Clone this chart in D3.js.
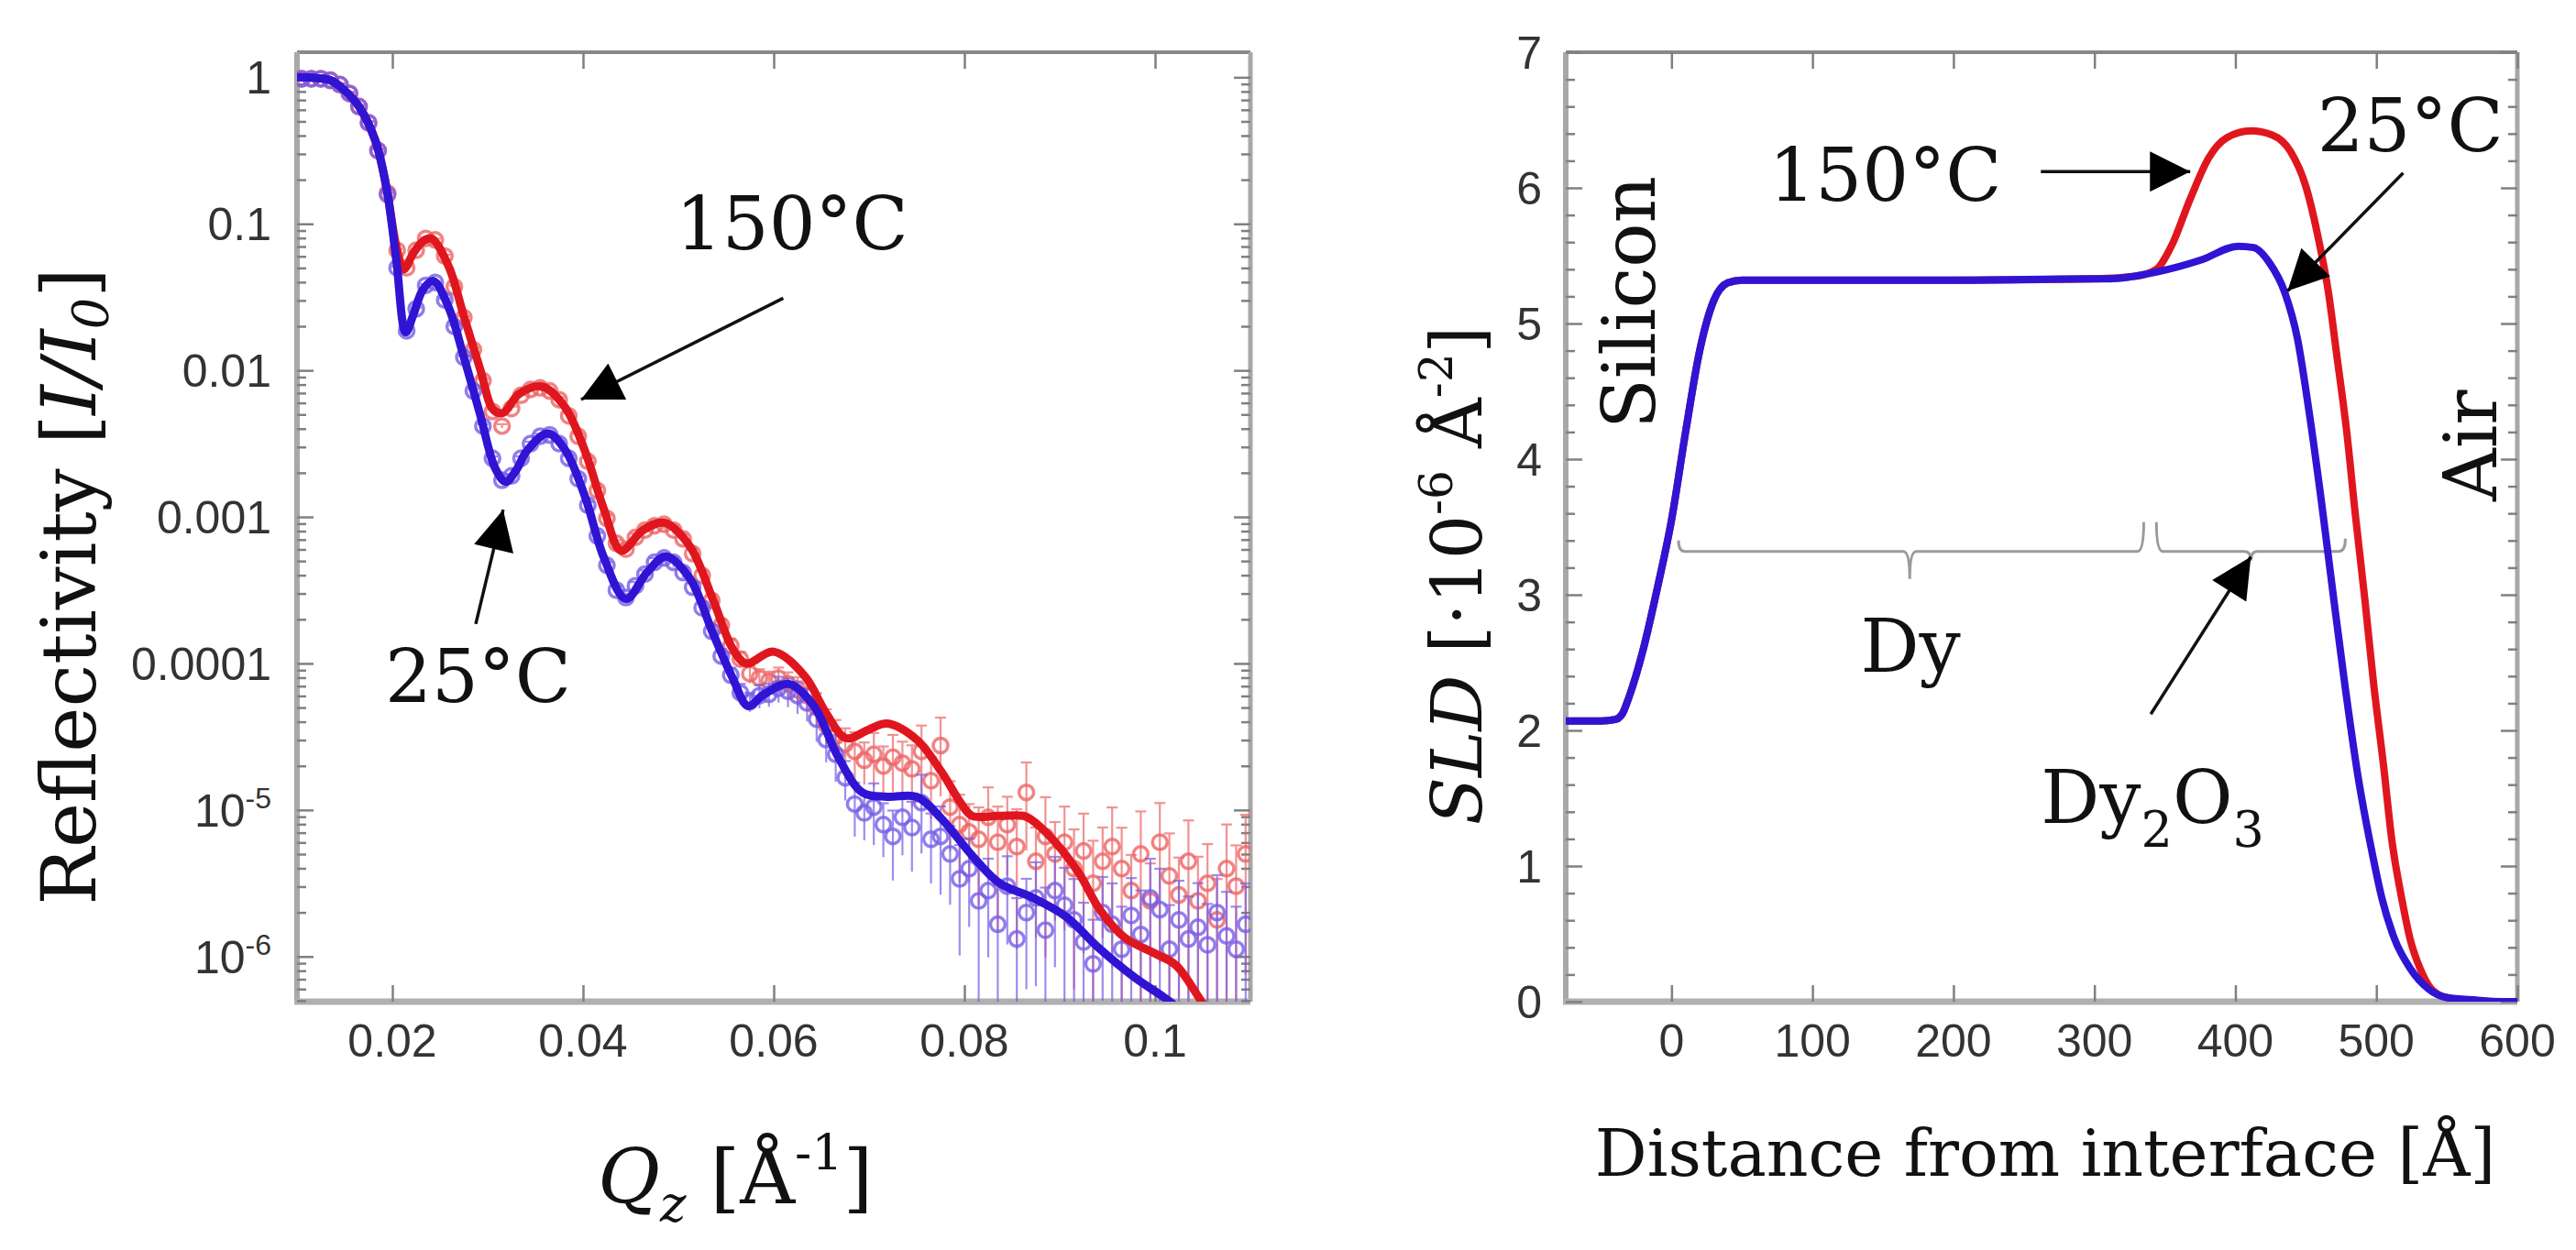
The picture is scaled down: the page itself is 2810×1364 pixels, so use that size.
<!DOCTYPE html>
<html>
<head>
<meta charset="utf-8">
<script src="https://cdn.jsdelivr.net/npm/d3@7"></script>
<style>
  body { margin: 0; background: #fff; }
  svg { display: block; }
</style>
</head>
<body>
<div id="chart"></div>
<script>
// ---------- reflectivity data (left panel) ----------
// measured points: Qz grid and log10(R) for each temperature, plus relative errors
const qData = [
  0.0105, 0.0115, 0.0125, 0.0135, 0.0145, 0.0155, 0.0165, 0.0175, 0.0185, 0.0195,
  0.0205, 0.0215, 0.0225, 0.0235, 0.0245, 0.0255, 0.0265, 0.0275, 0.0285, 0.0295,
  0.0305, 0.0315, 0.0325, 0.0335, 0.0345, 0.0355, 0.0365, 0.0375, 0.0385, 0.0395,
  0.0405, 0.0415, 0.0425, 0.0435, 0.0445, 0.0455, 0.0465, 0.0475, 0.0485, 0.0495,
  0.0505, 0.0515, 0.0525, 0.0535, 0.0545, 0.0555, 0.0565, 0.0575, 0.0585, 0.0595,
  0.0605, 0.0615, 0.0625, 0.0635, 0.0645, 0.0655, 0.0665, 0.0675, 0.0685, 0.0695,
  0.0705, 0.0715, 0.0725, 0.0735, 0.0745, 0.0755, 0.0765, 0.0775, 0.0785, 0.0795,
  0.0805, 0.0815, 0.0825, 0.0835, 0.0845, 0.0855, 0.0865, 0.0875, 0.0885, 0.0895,
  0.0905, 0.0915, 0.0925, 0.0935, 0.0945, 0.0955, 0.0965, 0.0975, 0.0985, 0.0995,
  0.1005, 0.1015, 0.1025, 0.1035, 0.1045, 0.1055, 0.1065, 0.1075, 0.1085, 0.1095
];
const logR25 = [
  -0.01, -0.01, -0.01, -0.02, -0.05, -0.11, -0.20, -0.31, -0.50, -0.80,
  -1.30, -1.73, -1.58, -1.42, -1.40, -1.52, -1.70, -1.91, -2.14, -2.38,
  -2.60, -2.75, -2.72, -2.60, -2.50, -2.45, -2.44, -2.50, -2.60, -2.74,
  -2.92, -3.13, -3.33, -3.50, -3.55, -3.47, -3.39, -3.31, -3.28, -3.31,
  -3.38, -3.48, -3.62, -3.78, -3.95, -4.08, -4.20, -4.26, -4.22, -4.21,
  -4.17, -4.19, -4.22, -4.27, -4.38, -4.52, -4.62, -4.78, -4.96, -5.02,
  -4.98, -5.10, -5.18, -5.05, -5.12, -4.95, -5.20, -5.18, -5.30, -5.47,
  -5.40, -5.62, -5.55, -5.78, -5.52, -5.88, -5.70, -5.60, -5.82, -5.55,
  -5.65, -5.75, -5.90, -6.05, -5.70, -5.78, -5.95, -5.72, -5.85, -5.60,
  -5.68, -5.95, -5.75, -5.88, -5.80, -5.92, -5.70, -5.86, -5.95, -5.78
];
const logR150 = [
  -0.01, -0.01, -0.01, -0.02, -0.05, -0.11, -0.20, -0.31, -0.50, -0.79,
  -1.18, -1.30, -1.18, -1.10, -1.11, -1.22, -1.43, -1.64, -1.86, -2.07,
  -2.28, -2.38, -2.26, -2.17, -2.13, -2.12, -2.14, -2.20, -2.31, -2.45,
  -2.62, -2.82, -3.01, -3.18, -3.22, -3.14, -3.09, -3.06, -3.05, -3.09,
  -3.15, -3.25, -3.40, -3.57, -3.74, -3.88, -3.97, -4.07, -4.10, -4.12,
  -4.10, -4.14, -4.18, -4.22, -4.30, -4.42, -4.50, -4.55, -4.60, -4.66,
  -4.62, -4.70, -4.64, -4.68, -4.72, -4.60, -4.80, -4.56, -4.98, -5.10,
  -5.15, -5.20, -5.05, -5.22, -5.10, -5.25, -4.88, -5.35, -5.18, -5.30,
  -5.22, -5.40, -5.28, -5.50, -5.35, -5.25, -5.40, -5.55, -5.30, -5.62,
  -5.22, -5.45, -5.58, -5.35, -5.62, -5.50, -5.75, -5.40, -5.52, -5.30
];
const relErr25 = [
  0.02, 0.02, 0.02, 0.02, 0.02, 0.02, 0.02, 0.02, 0.02, 0.02,
  0.02, 0.02, 0.02, 0.02, 0.02, 0.02, 0.02, 0.02, 0.03, 0.03,
  0.03, 0.03, 0.03, 0.03, 0.03, 0.04, 0.04, 0.04, 0.04, 0.04,
  0.05, 0.05, 0.05, 0.06, 0.06, 0.06, 0.06, 0.07, 0.07, 0.07,
  0.08, 0.08, 0.10, 0.10, 0.12, 0.12, 0.15, 0.15, 0.18, 0.18,
  0.20, 0.22, 0.25, 0.25, 0.30, 0.30, 0.35, 0.30, 0.40, 0.35,
  0.45, 0.40, 0.50, 0.45, 0.50, 0.55, 0.50, 0.60, 0.55, 0.70,
  0.60, 0.80, 0.65, 0.85, 0.60, 0.90, 0.70, 0.75, 0.95, 0.70,
  0.80, 0.90, 0.85, 1.00, 0.75, 0.90, 0.95, 0.80, 1.00, 0.85,
  0.90, 1.00, 0.85, 0.95, 1.00, 0.90, 0.80, 1.00, 0.95, 0.90
];
const relErr150 = [
  0.02, 0.02, 0.02, 0.02, 0.02, 0.02, 0.02, 0.02, 0.02, 0.02,
  0.02, 0.02, 0.02, 0.02, 0.02, 0.02, 0.02, 0.02, 0.03, 0.03,
  0.03, 0.03, 0.03, 0.03, 0.03, 0.04, 0.04, 0.04, 0.04, 0.04,
  0.05, 0.05, 0.05, 0.05, 0.06, 0.06, 0.06, 0.06, 0.07, 0.07,
  0.07, 0.08, 0.08, 0.10, 0.10, 0.12, 0.12, 0.14, 0.15, 0.16,
  0.18, 0.20, 0.22, 0.22, 0.25, 0.28, 0.30, 0.28, 0.35, 0.32,
  0.40, 0.36, 0.42, 0.40, 0.45, 0.50, 0.45, 0.55, 0.50, 0.60,
  0.55, 0.65, 0.60, 0.75, 0.55, 0.80, 0.60, 0.70, 0.85, 0.65,
  0.75, 0.85, 0.80, 0.95, 0.70, 0.85, 0.90, 0.75, 0.95, 0.80,
  0.85, 0.95, 0.80, 0.90, 1.00, 0.85, 0.90, 1.00, 0.90, 0.85
];

// fitted curves, [Qz, log10 R]
const fit25 = [
  [0.0100, 0.00], [0.0120, -0.005], [0.0135, -0.02], [0.0150, -0.09], [0.0165, -0.20],
  [0.0182, -0.43], [0.0194, -0.76], [0.0204, -1.24], [0.0214, -1.74], [0.0222, -1.62],
  [0.0232, -1.45], [0.0243, -1.39], [0.0259, -1.57], [0.0275, -1.91], [0.0292, -2.30],
  [0.0308, -2.67], [0.0319, -2.76], [0.0330, -2.68], [0.0341, -2.55], [0.0363, -2.43],
  [0.0381, -2.54], [0.0402, -2.86], [0.0422, -3.28], [0.0445, -3.56], [0.0467, -3.38],
  [0.0487, -3.27], [0.0512, -3.42], [0.0536, -3.79], [0.0557, -4.10], [0.0573, -4.29],
  [0.0590, -4.21], [0.0616, -4.14], [0.0642, -4.29], [0.0667, -4.63], [0.0693, -4.88],
  [0.0719, -4.91], [0.0750, -4.91], [0.0776, -5.06], [0.0808, -5.31], [0.0837, -5.50],
  [0.0872, -5.60], [0.0907, -5.73], [0.0939, -5.93], [0.0978, -6.14], [0.1016, -6.31],
  [0.1040, -6.45]
];
const fit150 = [
  [0.0100, 0.00], [0.0120, -0.005], [0.0135, -0.02], [0.0150, -0.09], [0.0165, -0.20],
  [0.0182, -0.43], [0.0194, -0.76], [0.0204, -1.15], [0.0212, -1.31], [0.0222, -1.20],
  [0.0232, -1.12], [0.0241, -1.10], [0.0259, -1.29], [0.0275, -1.63], [0.0292, -1.99],
  [0.0306, -2.27], [0.0316, -2.29], [0.0333, -2.16], [0.0357, -2.11], [0.0381, -2.25],
  [0.0402, -2.55], [0.0422, -2.95], [0.0440, -3.23], [0.0463, -3.09], [0.0485, -3.04],
  [0.0512, -3.20], [0.0536, -3.56], [0.0557, -3.90], [0.0571, -4.00], [0.0600, -3.92],
  [0.0633, -4.09], [0.0655, -4.34], [0.0676, -4.51], [0.0700, -4.45], [0.0719, -4.41],
  [0.0750, -4.52], [0.0776, -4.74], [0.0796, -4.95], [0.0808, -5.04], [0.0835, -5.04],
  [0.0862, -5.04], [0.0869, -5.06], [0.0894, -5.21], [0.0920, -5.43], [0.0942, -5.68],
  [0.0968, -5.87], [0.1000, -5.98], [0.1022, -6.06], [0.1050, -6.32], [0.1070, -6.50]
];
const qTicks = [0.02, 0.04, 0.06, 0.08, 0.1];
const qTickLabels = ["0.02", "0.04", "0.06", "0.08", "0.1"];
const rTicks = [1, 0.1, 0.01, 0.001, 0.0001, 1e-5, 1e-6];
const rTickLabels = [["1"], ["0.1"], ["0.01"], ["0.001"], ["0.0001"], ["10", "-5"], ["10", "-6"]];

// ---------- SLD profile data (right panel), [distance (Å), SLD] ----------
const sld25 = [
  [-75, 2.07], [-50, 2.07], [-40, 2.08], [-35, 2.12], [-30, 2.25], [-20, 2.60], [-10, 3.05],
  [0, 3.55], [10, 4.20], [20, 4.80], [30, 5.17], [40, 5.30], [50, 5.32], [100, 5.32],
  [200, 5.32], [300, 5.33], [311, 5.33], [344, 5.38], [376, 5.47], [402, 5.57], [413, 5.56],
  [424, 5.45], [435, 5.23], [444, 4.89], [452, 4.37], [461, 3.69], [470, 2.95], [478, 2.31],
  [487, 1.66], [496, 1.15], [504, 0.76], [513, 0.46], [524, 0.245], [537, 0.094],
  [550, 0.03], [572, 0.01], [585, 0.0], [600, 0.0]
];
const sld150 = [
  [-75, 2.07], [-50, 2.07], [-40, 2.08], [-35, 2.12], [-30, 2.25], [-20, 2.60], [-10, 3.05],
  [0, 3.55], [10, 4.20], [20, 4.80], [30, 5.17], [40, 5.30], [50, 5.32], [100, 5.32],
  [200, 5.32], [300, 5.33], [330, 5.35], [344, 5.40], [355, 5.58], [368, 5.92], [381, 6.22],
  [394, 6.37], [411, 6.42], [426, 6.39], [439, 6.27], [450, 6.01], [459, 5.62], [466, 5.23],
  [472, 4.76], [479, 4.20], [485, 3.60], [492, 2.95], [498, 2.35], [505, 1.75], [511, 1.19],
  [518, 0.76], [524, 0.46], [531, 0.245], [539, 0.094], [550, 0.03], [572, 0.005],
  [590, 0.0], [600, 0.0]
];
const dTicks = [0, 100, 200, 300, 400, 500, 600];
const sTicks = [0, 1, 2, 3, 4, 5, 6, 7];

// layer brackets: [start, end, middle] in Å at SLD level
const braceLevel = 3.32;
const braces = [
  { from: 5, to: 335, mid: 169, hookL: 12, hookR: 32, tip: 30 },
  { from: 344, to: 478, mid: 411, hookL: 32, hookR: 14, tip: 10 }
];

// ---------- layout ----------
const W = 2810, H = 1364;
const SERIF = "'DejaVu Serif', serif";
const SANS = "'Liberation Sans', Arial, sans-serif";
const RED = "#e0161e", BLUE = "#3014d4";
const RED_PT = "#ec6464", BLUE_PT = "#765ce6";

const pL = { left: 324, right: 1364, top: 57, bottom: 1093 };
const pR = { left: 1708, right: 2746, top: 57, bottom: 1093 };

const svg = d3.select("#chart").append("svg")
  .attr("width", W).attr("height", H)
  .attr("viewBox", [0, 0, W, H]);

const defs = svg.append("defs");
defs.append("marker")
  .attr("id", "head")
  .attr("viewBox", "0 0 10 10")
  .attr("refX", 10).attr("refY", 5)
  .attr("markerUnits", "userSpaceOnUse")
  .attr("markerWidth", 46).attr("markerHeight", 44)
  .attr("orient", "auto")
  .append("path").attr("d", "M0,0 L10,5 L0,10 Z").attr("fill", "#000");

function clip(id, p) {
  defs.append("clipPath").attr("id", id)
    .append("rect")
    .attr("x", p.left).attr("y", p.top)
    .attr("width", p.right - p.left).attr("height", p.bottom - p.top);
}
clip("clipL", pL);
clip("clipR", pR);

function frame(p) {
  const g = svg.append("g");
  g.append("line").attr("x1", p.left).attr("x2", p.right).attr("y1", p.top).attr("y2", p.top)
    .attr("stroke", "#888").attr("stroke-width", 4);
  g.append("line").attr("x1", p.right).attr("x2", p.right).attr("y1", p.top).attr("y2", p.bottom)
    .attr("stroke", "#a8a8a8").attr("stroke-width", 5);
  g.append("line").attr("x1", p.left).attr("x2", p.left).attr("y1", p.top).attr("y2", p.bottom + 3)
    .attr("stroke", "#a8a8a8").attr("stroke-width", 6);
  g.append("line").attr("x1", p.left - 3).attr("x2", p.right).attr("y1", p.bottom).attr("y2", p.bottom)
    .attr("stroke", "#b0b0b0").attr("stroke-width", 7);
}

function tickAxes(p, x, y, xt, yMajor, yMinor) {
  const g = svg.append("g").attr("stroke", "#808080").attr("stroke-width", 2.5);
  g.append("g").attr("transform", `translate(0,${p.bottom})`)
    .call(d3.axisBottom(x).tickValues(xt).tickSize(-18).tickFormat(""));
  g.append("g").attr("transform", `translate(0,${p.top})`)
    .call(d3.axisTop(x).tickValues(xt).tickSize(-18).tickFormat(""));
  g.append("g").attr("transform", `translate(${p.left},0)`)
    .call(d3.axisLeft(y).tickValues(yMajor).tickSize(-18).tickFormat(""));
  g.append("g").attr("transform", `translate(${p.right},0)`)
    .call(d3.axisRight(y).tickValues(yMajor).tickSize(-18).tickFormat(""));
  g.append("g").attr("transform", `translate(${p.left},0)`)
    .call(d3.axisLeft(y).tickValues(yMinor).tickSize(-10).tickFormat(""));
  g.append("g").attr("transform", `translate(${p.right},0)`)
    .call(d3.axisRight(y).tickValues(yMinor).tickSize(-10).tickFormat(""));
  g.selectAll(".domain").remove();
  g.selectAll("line").attr("stroke", "#808080");
}

function arrow(x1, y1, x2, y2) {
  svg.append("line")
    .attr("x1", x1).attr("y1", y1).attr("x2", x2).attr("y2", y2)
    .attr("stroke", "#111").attr("stroke-width", 3.5)
    .attr("marker-end", "url(#head)");
}

// ================= LEFT PANEL =================
const xQ = d3.scaleLinear().domain([0.01, 0.11]).range([pL.left, pL.right]);
const yRf = d3.scaleLog().domain([Math.pow(10, -6.308), Math.pow(10, 0.171)]).range([pL.bottom, pL.top]);

frame(pL);
const rMinor = yRf.ticks().filter(v => Math.abs(Math.log10(v) - Math.round(Math.log10(v))) > 1e-6);
tickAxes(pL, xQ, yRf, qTicks, rTicks, rMinor);

const yMinVal = yRf.domain()[0];
function pointSeries(logs, errs, col) {
  const g = svg.append("g").attr("clip-path", "url(#clipL)");
  const pts = qData.map((q, i) => {
    const r = Math.pow(10, logs[i]);
    const lo = r * (1 - errs[i]);
    return { q, r, hi: r * (1 + errs[i]), lo: lo > 0 ? lo : yMinVal / 2 };
  });
  const bars = g.append("g").attr("stroke", col).attr("stroke-width", 2.2).attr("opacity", 0.7);
  bars.selectAll("line.v").data(pts).join("line").attr("class", "v")
    .attr("x1", d => xQ(d.q)).attr("x2", d => xQ(d.q))
    .attr("y1", d => yRf(d.hi)).attr("y2", d => yRf(d.lo));
  bars.selectAll("line.c").data(pts).join("line").attr("class", "c")
    .attr("x1", d => xQ(d.q) - 6).attr("x2", d => xQ(d.q) + 6)
    .attr("y1", d => yRf(d.hi)).attr("y2", d => yRf(d.hi));
  g.append("g").selectAll("circle").data(pts).join("circle")
    .attr("cx", d => xQ(d.q)).attr("cy", d => yRf(d.r)).attr("r", 8)
    .attr("fill", "none").attr("stroke", col).attr("stroke-width", 3.5).attr("opacity", 0.8);
}
pointSeries(logR150, relErr150, RED_PT);
pointSeries(logR25, relErr25, BLUE_PT);

const lineQ = d3.line()
  .x(d => xQ(d[0]))
  .y(d => yRf(Math.pow(10, d[1])))
  .curve(d3.curveCatmullRom.alpha(0.5));
const gLinesL = svg.append("g").attr("clip-path", "url(#clipL)").attr("fill", "none");
gLinesL.append("path").attr("d", lineQ(fit150)).attr("stroke", RED).attr("stroke-width", 9);
gLinesL.append("path").attr("d", lineQ(fit25)).attr("stroke", BLUE).attr("stroke-width", 9);

// tick labels
svg.append("g").selectAll("text").data(qTicks).join("text")
  .attr("x", d => xQ(d)).attr("y", pL.bottom + 60)
  .attr("text-anchor", "middle")
  .attr("font-family", SANS).attr("font-size", 50).attr("fill", "#333")
  .text((d, i) => qTickLabels[i]);
const rl = svg.append("g").selectAll("text").data(rTicks).join("text")
  .attr("x", pL.left - 28).attr("y", d => yRf(d))
  .attr("dy", "0.36em")
  .attr("text-anchor", "end")
  .attr("font-family", SANS).attr("font-size", 50).attr("fill", "#333");
rl.each(function (d, i) {
  const t = d3.select(this);
  const parts = rTickLabels[i];
  t.append("tspan").text(parts[0]);
  if (parts[1]) t.append("tspan").attr("dy", -20).attr("font-size", 32).text(parts[1]);
});

// axis titles
const yTitleL = svg.append("text")
  .attr("transform", `translate(104,640) rotate(-90)`)
  .attr("text-anchor", "middle")
  .attr("font-family", SERIF).attr("font-size", 83).attr("fill", "#111");
yTitleL.append("tspan").text("Reflectivity [");
yTitleL.append("tspan").attr("font-style", "italic").text("I/I");
yTitleL.append("tspan").attr("font-style", "italic").attr("font-size", 54).attr("dy", 14).text("0");
yTitleL.append("tspan").attr("dy", -14).text("]");

const xTitleL = svg.append("text")
  .attr("x", 802).attr("y", 1313)
  .attr("text-anchor", "middle")
  .attr("font-family", SERIF).attr("font-size", 83).attr("fill", "#111");
xTitleL.append("tspan").attr("font-style", "italic").text("Q");
xTitleL.append("tspan").attr("font-style", "italic").attr("font-size", 54).attr("dy", 20).text("z");
xTitleL.append("tspan").attr("dy", -20).text(" [\u00C5");
xTitleL.append("tspan").attr("font-size", 54).attr("dy", -36).text("-1");
xTitleL.append("tspan").attr("dy", 36).text("]");

// annotations (data coordinates)
const annL = [
  { text: "150\u00B0C", q: 0.0497, r: 0.0671 },
  { text: "25\u00B0C", q: 0.01923, r: 5.47e-5 }
];
svg.append("g").selectAll("text").data(annL).join("text")
  .attr("x", d => xQ(d.q)).attr("y", d => yRf(d.r))
  .attr("font-family", SERIF).attr("font-size", 80).attr("fill", "#111")
  .text(d => d.text);
const arrowsL = [
  { q1: 0.0610, r1: 0.0311, q2: 0.0398, r2: 0.00632 },
  { q1: 0.02875, r1: 1.86e-4, q2: 0.03162, r2: 1.12e-3 }
];
arrowsL.forEach(a => arrow(xQ(a.q1), yRf(a.r1), xQ(a.q2), yRf(a.r2)));

// ================= RIGHT PANEL =================
const xD = d3.scaleLinear().domain([-75, 600]).range([pR.left, pR.right]);
const yS = d3.scaleLinear().domain([0, 7]).range([pR.bottom, pR.top]);

frame(pR);
const sMinor = d3.range(0, 7.001, 0.2).filter(v => Math.abs(v - Math.round(v)) > 1e-6);
tickAxes(pR, xD, yS, dTicks, sTicks, sMinor);

// brackets for layers
const yb = yS(braceLevel);
svg.append("g").attr("fill", "none").attr("stroke", "#9a9a9a").attr("stroke-width", 3)
  .selectAll("path").data(braces).join("path")
  .attr("d", b => {
    const x0 = xD(b.from), x1 = xD(b.to), xm = xD(b.mid), r = 7;
    return `M${x0},${yb - b.hookL} Q${x0},${yb} ${x0 + r},${yb} L${xm - r},${yb} ` +
      `Q${xm},${yb} ${xm},${yb + b.tip} Q${xm},${yb} ${xm + r},${yb} L${x1 - r},${yb} ` +
      `Q${x1},${yb} ${x1},${yb - b.hookR}`;
  });

const lineD = d3.line().x(d => xD(d[0])).y(d => yS(d[1])).curve(d3.curveMonotoneX);
const gLinesR = svg.append("g").attr("clip-path", "url(#clipR)").attr("fill", "none");
gLinesR.append("path").attr("d", lineD(sld150)).attr("stroke", RED).attr("stroke-width", 8);
gLinesR.append("path").attr("d", lineD(sld25)).attr("stroke", BLUE).attr("stroke-width", 8);

svg.append("g").selectAll("text").data(dTicks).join("text")
  .attr("x", d => xD(d)).attr("y", pR.bottom + 60)
  .attr("text-anchor", "middle")
  .attr("font-family", SANS).attr("font-size", 50).attr("fill", "#333")
  .text(d => d);
svg.append("g").selectAll("text").data(sTicks).join("text")
  .attr("x", pR.left - 26).attr("y", d => yS(d))
  .attr("dy", "0.36em")
  .attr("text-anchor", "end")
  .attr("font-family", SANS).attr("font-size", 50).attr("fill", "#333")
  .text(d => d);

const yTitleR = svg.append("text")
  .attr("transform", `translate(1616,628) rotate(-90)`)
  .attr("text-anchor", "middle")
  .attr("font-family", SERIF).attr("font-size", 76).attr("fill", "#111");
yTitleR.append("tspan").attr("font-style", "italic").text("SLD");
yTitleR.append("tspan").text(" [\u00B710");
yTitleR.append("tspan").attr("font-size", 50).attr("dy", -32).text("-6");
yTitleR.append("tspan").attr("dy", 32).text(" \u00C5");
yTitleR.append("tspan").attr("font-size", 50).attr("dy", -32).text("-2");
yTitleR.append("tspan").attr("dy", 32).text("]");

svg.append("text")
  .attr("x", 2231).attr("y", 1283)
  .attr("text-anchor", "middle")
  .attr("font-family", SERIF).attr("font-size", 71).attr("fill", "#111")
  .text("Distance from interface [\u00C5]");

// annotations (data coordinates)
const annR = [
  { text: "150\u00B0C", x: 69, s: 5.905 },
  { text: "25\u00B0C", x: 458, s: 6.27 },
  { text: "Dy", x: 134, s: 2.43 }
];
svg.append("g").selectAll("text").data(annR).join("text")
  .attr("x", d => xD(d.x)).attr("y", d => yS(d.s))
  .attr("font-family", SERIF).attr("font-size", 80).attr("fill", "#111")
  .text(d => d.text);

const oxide = svg.append("text")
  .attr("x", xD(262)).attr("y", yS(1.32))
  .attr("font-family", SERIF).attr("font-size", 80).attr("fill", "#111");
oxide.append("tspan").text("Dy");
oxide.append("tspan").attr("font-size", 54).attr("dy", 26).text("2");
oxide.append("tspan").attr("dy", -26).text("O");
oxide.append("tspan").attr("font-size", 54).attr("dy", 26).text("3");

const sideLabels = [
  { text: "Silicon", x: -12, s: 5.155 },
  { text: "Air", x: 585, s: 4.10 }
];
svg.append("g").selectAll("text").data(sideLabels).join("text")
  .attr("transform", d => `translate(${xD(d.x)},${yS(d.s)}) rotate(-90)`)
  .attr("text-anchor", "middle")
  .attr("font-family", SERIF).attr("font-size", 80).attr("fill", "#111")
  .text(d => d.text);

const arrowsR = [
  { x1: 262, s1: 6.12, x2: 368, s2: 6.12 },
  { x1: 519, s1: 6.11, x2: 437, s2: 5.24 },
  { x1: 340, s1: 2.12, x2: 411, s2: 3.28 }
];
arrowsR.forEach(a => arrow(xD(a.x1), yS(a.s1), xD(a.x2), yS(a.s2)));
</script>
</body>
</html>
